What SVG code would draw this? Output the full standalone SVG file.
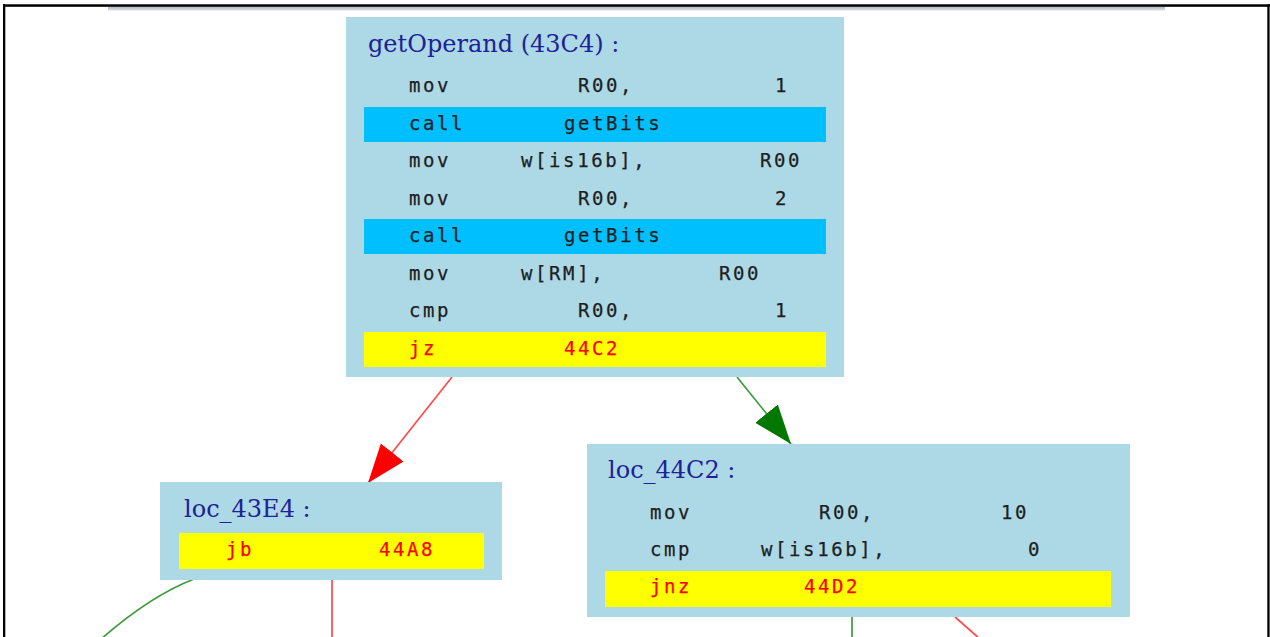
<svg xmlns="http://www.w3.org/2000/svg" width="1270" height="637" viewBox="0 0 1270 637">
<style>
.box{fill:#add8e6}
.call{fill:#00bfff}
.jmp{fill:#ffff00}
.title{font-family:"DejaVu Serif","Liberation Serif",serif;font-size:24px;fill:#1e2296}
.code{font-family:"DejaVu Sans Mono","Liberation Mono",monospace;font-size:19px;letter-spacing:2.6px;fill:#1e1e1e;stroke:#1e1e1e;stroke-width:0.25}
.code.j{fill:#ff0000;stroke:#ff0000}
.er{stroke:#ff4a4a;stroke-width:1.7;fill:none}
.eg{stroke:#3c9a3c;stroke-width:1.7;fill:none}
</style>
<defs>
<linearGradient id="bar" x1="0" y1="0" x2="0" y2="1">
<stop offset="0" stop-color="#b4b8c4"/>
<stop offset="1" stop-color="#dfe1e7"/>
</linearGradient>
<marker id="ar" markerUnits="userSpaceOnUse" markerWidth="40" markerHeight="30" refX="39" refY="15" orient="auto">
<path d="M0,0.5 L39,15 L0,29.5 Z" fill="#ff0000"/>
</marker>
<marker id="ag" markerUnits="userSpaceOnUse" markerWidth="40" markerHeight="30" refX="39" refY="15" orient="auto">
<path d="M0,0.5 L39,15 L0,29.5 Z" fill="#007800"/>
</marker>
</defs>
<rect width="1270" height="637" fill="#ffffff"/>
<g id="frame">
<rect x="108" y="7" width="1057" height="3.5" fill="url(#bar)"/>
<rect x="3" y="4.3" width="1267" height="2.5" fill="#000"/>
<rect x="3" y="4.3" width="2.3" height="633" fill="#000"/>
<rect x="1267.3" y="4.3" width="2.3" height="633" fill="#000"/>
</g>
<g id="edges">
<line class="er" x1="452" y1="377" x2="368" y2="483" marker-end="url(#ar)"/>
<line class="eg" x1="737" y1="377" x2="791" y2="444" marker-end="url(#ag)"/>
<path class="eg" d="M194,579 Q150,596 100,640"/>
<line class="er" x1="332" y1="580" x2="332" y2="637"/>
<line class="eg" x1="852" y1="617" x2="852" y2="637"/>
<line class="er" x1="955" y1="617" x2="980" y2="639"/>
</g>
<g id="getOperand">
<rect class="box" x="346" y="17" width="498" height="360"/>
<text class="title" x="368" y="52">getOperand (43C4) :</text>
<rect class="call" x="364" y="107" width="462" height="35"/>
<rect class="call" x="364" y="219" width="462" height="35"/>
<rect class="jmp" x="364" y="332" width="462" height="35"/>
<text class="code" x="409" y="92">mov</text><text class="code" x="578" y="92">R00,</text><text class="code" x="775" y="92">1</text>
<text class="code" x="409" y="129.5">call</text><text class="code" x="564" y="129.5">getBits</text>
<text class="code" x="409" y="167">mov</text><text class="code" x="521" y="167">w[is16b],</text><text class="code" x="760" y="167">R00</text>
<text class="code" x="409" y="204.5">mov</text><text class="code" x="578" y="204.5">R00,</text><text class="code" x="775" y="204.5">2</text>
<text class="code" x="409" y="242">call</text><text class="code" x="564" y="242">getBits</text>
<text class="code" x="409" y="279.5">mov</text><text class="code" x="521" y="279.5">w[RM],</text><text class="code" x="719" y="279.5">R00</text>
<text class="code" x="409" y="317">cmp</text><text class="code" x="578" y="317">R00,</text><text class="code" x="775" y="317">1</text>
<text class="code j" x="409" y="354.5">jz</text><text class="code j" x="564" y="354.5">44C2</text>
</g>
<g id="loc_43E4">
<rect class="box" x="160" y="482" width="342" height="98"/>
<text class="title" x="184" y="517">loc_43E4 :</text>
<rect class="jmp" x="179" y="533" width="305" height="36"/>
<text class="code j" x="226" y="556">jb</text><text class="code j" x="379" y="556">44A8</text>
</g>
<g id="loc_44C2">
<rect class="box" x="587" y="444" width="543" height="173"/>
<text class="title" x="608" y="478">loc_44C2 :</text>
<rect class="jmp" x="605" y="571" width="506" height="36"/>
<text class="code" x="650" y="519">mov</text><text class="code" x="819" y="519">R00,</text><text class="code" x="1001" y="519">10</text>
<text class="code" x="650" y="555.5">cmp</text><text class="code" x="761" y="555.5">w[is16b],</text><text class="code" x="1028" y="555.5">0</text>
<text class="code j" x="650" y="593">jnz</text><text class="code j" x="804" y="593">44D2</text>
</g>
</svg>
